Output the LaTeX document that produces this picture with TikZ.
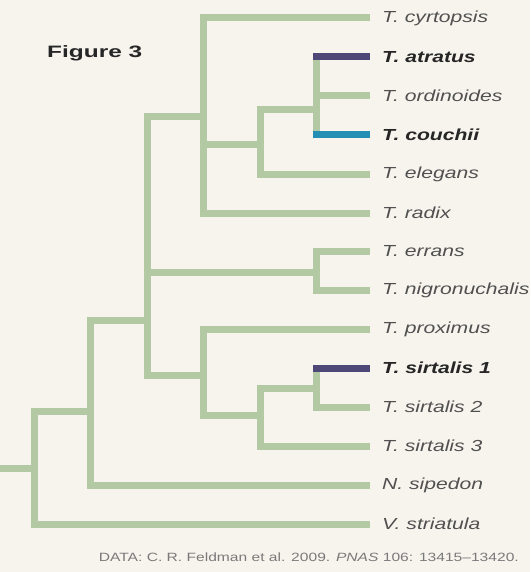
\documentclass[tikz,border=0pt]{standalone}
\usepackage{fontspec}
\setmainfont{Liberation Sans}
\newfontfamily\leaffont[FakeStretch=1.32]{Liberation Sans}
\newfontfamily\headfont[FakeStretch=1.48]{Liberation Sans}
\newfontfamily\notefont[FakeStretch=1.3]{Liberation Sans}
\definecolor{paper}{HTML}{F7F4EE}
\definecolor{branchgreen}{HTML}{B2C9A4}
\definecolor{atrpurple}{HTML}{4E4878}
\definecolor{coublue}{HTML}{2290B5}
\definecolor{labgray}{HTML}{505050}
\definecolor{labdark}{HTML}{262626}
\definecolor{notegray}{HTML}{7A7A7A}
\tikzset{
  branch/.style={draw=branchgreen, line width=7pt, line join=miter},
  hibranch/.style={line width=7pt},
  leaf/.style={anchor=west, inner sep=0pt, text=labgray,
    font=\leaffont\itshape\fontsize{16}{18}\selectfont},
  keyleaf/.style={leaf, text=labdark,
    font=\leaffont\itshape\bfseries\fontsize{16}{18}\selectfont},
}
\begin{document}
\begin{tikzpicture}[x=1pt, y=-1pt]
  \fill[paper] (0,0) rectangle (530,572);
  \useasboundingbox (0,0) rectangle (530,572);

  % tips of the terminal branches
  \foreach \name/\yy in {cyr/18, atr/57, ord/96, cou/135, ele/174, rad/213,
      err/251, nig/290, pro/329, sa/368, sb/407, sc/446, sip/485, str/524}
    \coordinate (t-\name) at (370,\yy);

  % internal nodes (x of the split, y of the stem)
  \coordinate (root) at (0,468);
  \coordinate (n-str) at (34,468);
  \coordinate (n-sip) at (90,411);
  \coordinate (n-tha) at (147,320);
  \coordinate (n-cyr) at (203,117);
  \coordinate (n-ele) at (260,145);
  \coordinate (n-atr) at (316,110);
  \coordinate (n-err) at (316,272);
  \coordinate (n-pro) at (203,375);
  \coordinate (n-sc)  at (260,415);
  \coordinate (n-sa)  at (316,388);

  % branches
  \draw[branch] (root) -- (n-str);
  \foreach \c/\p in {t-str/n-str, n-sip/n-str,
      t-sip/n-sip, n-tha/n-sip,
      n-cyr/n-tha, n-err/n-tha, n-pro/n-tha,
      t-cyr/n-cyr, n-ele/n-cyr, t-rad/n-cyr,
      n-atr/n-ele, t-ele/n-ele,
      t-atr/n-atr, t-ord/n-atr, t-cou/n-atr,
      t-err/n-err, t-nig/n-err,
      t-pro/n-pro, n-sc/n-pro,
      n-sa/n-sc, t-sc/n-sc,
      t-sa/n-sa, t-sb/n-sa}
    \draw[branch] (\c) -| (\p);

  % highlighted terminal branches
  \draw[hibranch, atrpurple] (t-atr) -- ++(-57.5,0);
  \draw[hibranch, coublue]   (t-cou) -- ++(-57.5,0);
  \draw[hibranch, atrpurple] (t-sa)  -- ++(-57.5,0);

  % taxon labels
  \node[leaf]    (l-cyr) at ([xshift=12pt]t-cyr) {T. cyrtopsis};
  \node[keyleaf] (l-atr) at ([xshift=12pt]t-atr) {T. atratus};
  \node[leaf]    (l-ord) at ([xshift=12pt]t-ord) {T. ordinoides};
  \node[keyleaf] (l-cou) at ([xshift=12pt]t-cou) {T. couchii};
  \node[leaf]    (l-ele) at ([xshift=12pt]t-ele) {T. elegans};
  \node[leaf]    (l-rad) at ([xshift=12pt]t-rad) {T. radix};
  \node[leaf]    (l-err) at ([xshift=12pt]t-err) {T. errans};
  \node[leaf]    (l-nig) at ([xshift=12pt]t-nig) {T. nigronuchalis};
  \node[leaf]    (l-pro) at ([xshift=12pt]t-pro) {T. proximus};
  \node[keyleaf] (l-sa)  at ([xshift=12pt]t-sa)  {T. sirtalis 1};
  \node[leaf]    (l-sb)  at ([xshift=12pt]t-sb)  {T. sirtalis 2};
  \node[leaf]    (l-sc)  at ([xshift=12pt]t-sc)  {T. sirtalis 3};
  \node[leaf]    (l-sip) at ([xshift=12pt]t-sip) {N. sipedon};
  \node[leaf]    (l-str) at ([xshift=12pt]t-str) {V. striatula};

  % heading and source note
  \node[anchor=west, inner sep=0pt, text=labdark,
    font=\headfont\bfseries\fontsize{16.5}{18}\selectfont] (title) at (47,53) {Figure 3};
  \node[anchor=east, inner sep=0pt, text=notegray,
    font=\notefont\fontsize{12}{14}\selectfont] (source) at (519,557)
    {DATA: C. R. Feldman et al. 2009. \textit{PNAS} 106: 13415–13420.};
\end{tikzpicture}
\end{document}
